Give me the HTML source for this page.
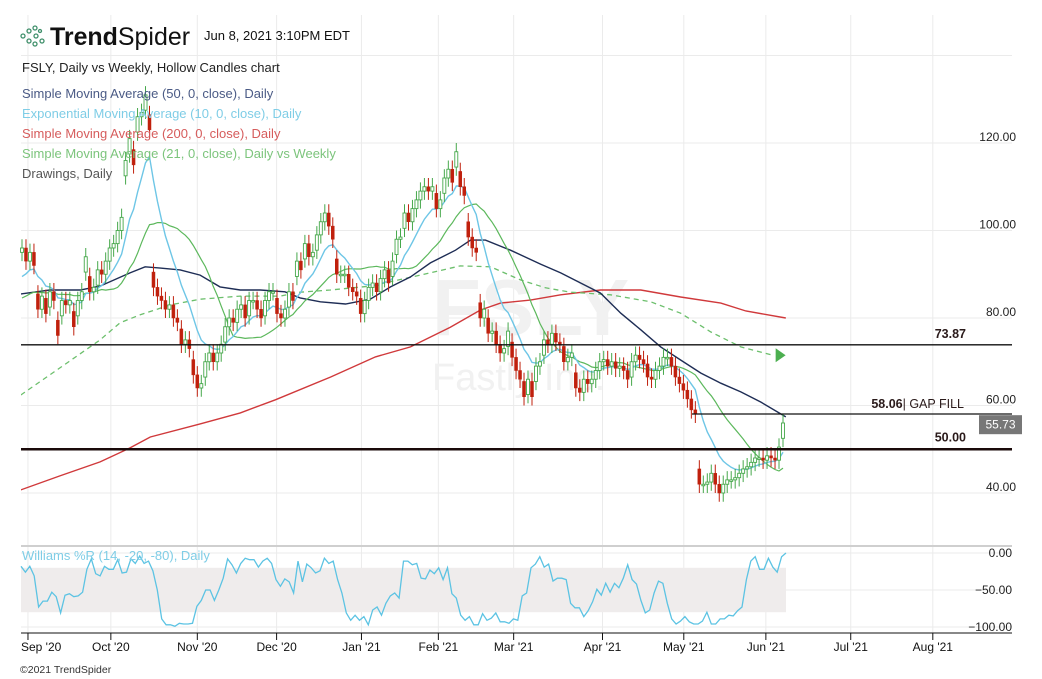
<!DOCTYPE html>
<html><head><meta charset="utf-8">
<style>
html,body{margin:0;padding:0;background:#fff;width:1042px;height:679px;overflow:hidden}
svg{display:block;font-family:"Liberation Sans",sans-serif}
</style></head>
<body>
<svg id="chart" width="1042" height="679" viewBox="0 0 1042 679" xmlns="http://www.w3.org/2000/svg">
  <g id="grid"></g>
  <g>
    <text x="432" y="335" font-size="80" font-weight="bold" fill="#f1f1f1">FSLY</text>
    <text x="432" y="390" font-size="38" fill="#f1f1f1">Fastly Inc.</text>
  </g>
  <rect id="wband" fill="#efecec"></rect>
  <g id="marks"></g>
  <g id="drawings"></g>
  <g id="axes"></g>
  <g>
    <g fill="none" stroke="#3f8f6a" stroke-width="1.3">
      <circle cx="23" cy="36" r="2"/><circle cx="29" cy="31" r="2"/><circle cx="29" cy="41" r="2"/>
      <circle cx="35" cy="28" r="2"/><circle cx="36" cy="36" r="2"/><circle cx="35" cy="44" r="2"/><circle cx="42" cy="41" r="2"/><circle cx="40" cy="31" r="1.5"/>
    </g>
    <text x="50" y="45" font-size="25" fill="#111" textLength="140" lengthAdjust="spacingAndGlyphs"><tspan font-weight="bold">Trend</tspan><tspan font-weight="normal">Spider</tspan></text>
    <text x="204" y="40" font-size="13" fill="#111">Jun 8, 2021 3:10PM EDT</text>
  </g>
  <g font-size="13">
    <text x="22" y="72" fill="#222">FSLY, Daily vs Weekly, Hollow Candles chart</text>
    <text x="22" y="98" fill="#4a5a85">Simple Moving Average (50, 0, close), Daily</text>
    <text x="22" y="118" fill="#7fcde6">Exponential Moving Average (10, 0, close), Daily</text>
    <text x="22" y="138" fill="#d65c5c">Simple Moving Average (200, 0, close), Daily</text>
    <text x="22" y="158" fill="#7cc47c">Simple Moving Average (21, 0, close), Daily vs Weekly</text>
    <text x="22" y="178" fill="#555">Drawings, Daily</text>
    <text x="22" y="560" fill="#7fcde6">Williams %R (14, -20, -80), Daily</text>
  </g>
  <text x="20" y="673" font-size="10.5" fill="#333">©2021 TrendSpider</text>
</svg>
<script>
// ---- data ----
const closes = [96,93,95,92,82,85,81,86,84,76,84,83,84,78,84,86,94,86,87,91,90,93,96,97,100,103,116,121,115,126,127,131,123,87,85,84,82,83,80,79,74,75,73,67,64,65,70,72,70,72,74,78,80,79,82,83,80,84,84,82,80,84,86,86,81,80,82,86,84,93,91,97,94,95,99,102,104,101,98,90,90,90,87,86,85,81,84,87,88,86,89,91,88,93,98,98.5,104,102,105,107,109,110,109,110,105,107,112,114,111,118,110,108,98.5,96,95,80,82,76.5,77,74,72,73,77,71,68,66,62,66,62,69,70,75,74,76.5,74.5,74,70,71,72,64,63,66,65,66,68,70,70.5,69,70,68.5,69,68,66,70,71.5,70.5,69.5,66.5,66,68,69,71,71,69,66.5,65,63.5,61.5,59,58,42,42,42.5,44.5,42,40,42,43,43,43.5,44.5,45.5,46,47,48,48,47.5,48.5,48,47.5,50.5,56];
const sma50Idx = [-1.8,7,14.6,19.6,27.1,30.9,34.7,39.7,44.7,49.7,54.8,59.8,66,69.8,74.9,81.2,87.4,92.5,97.5,102.5,108.8,112.6,116.3,122.6,130.2,135.2,140.2,145.2,150.3,155.3,160.3,165.3,170.4,175.4,180.4,185.4,191.7];
const sma50Val = [85.3,86.4,86.4,87.3,90.3,91.7,91.4,91.0,89.8,87.1,86.4,86.4,86.0,84.6,83.7,83.2,84.3,87.1,89.4,92.6,95.5,97.8,97.8,95.5,92.3,90.3,88.0,85.7,81.1,77.3,73.4,70.4,67.4,65.1,63.1,60.8,57.4];
const sma200Idx = [-0.3,9.5,19.6,27.1,32.2,44.7,54.8,63.6,77.4,88.7,97.5,107.5,115,120.1,127.6,135.2,145.2,155.3,165.3,175.4,181.7,191.7];
const sma200Val = [40.7,43.9,47.1,50.3,52.8,55.8,58.3,61.3,66.5,71.1,73.4,77.9,81.8,83.4,84.1,85.3,86.4,86.4,84.8,83.4,81.6,80.0];
const weeklyIdx = [-0.3,9.5,19.6,24.6,29.6,37.2,44.7,54.8,64.8,69.8,77.4,87.4,100,110,117.6,125.1,131.4,137.7,147.7,157.8,165.3,172.9,180.4,188.4];
const weeklyVal = [62.4,68.6,75.0,78.9,80.7,83.0,84.3,85.0,85.0,85.9,86.4,87.3,89.8,91.9,91.7,88.7,86.9,85.9,85.3,83.7,81.1,76.8,73.4,71.5];
const williams = [-18,-26,-18,-31,-73,-65,-65,-53,-59,-81,-57,-55,-59,-58,-53,-22,-8,-28,-31,-18,-22,-22,-9,-27,-26,-8,-14,-4,-14,-11,-24,-50,-89,-97,-97,-99,-95,-96,-96,-95,-72,-64,-50,-50,-64,-50,-34,-8,-16,-27,-14,-7,-9,-9,-19,-11,-7,-14,-36,-45,-35,-39,-54,-11,-39,-15,-20,-27,-24,-7,-14,-11,-36,-54,-81,-91,-84,-91,-86,-97,-77,-73,-84,-68,-58,-54,-61,-11,-11,-16,-14,-34,-35,-23,-28,-20,-36,-20,-55,-61,-84,-91,-86,-97,-97,-82,-91,-88,-81,-93,-93,-95,-89,-91,-58,-54,-20,-15,-5,-19,-15,-38,-34,-34,-36,-68,-74,-74,-86,-78,-66,-49,-57,-41,-53,-41,-47,-34,-16,-36,-42,-64,-81,-77,-54,-38,-41,-68,-89,-96,-92,-86,-93,-96,-96,-92,-80,-96,-96,-89,-89,-84,-85,-78,-73,-36,-11,-5,-22,-22,-7,-19,-26,-5,0];
const priceTicks = [120,100,80,60,40];
const wTicks = [0,-50,-100];
const monthLabels = ["Sep '20","Oct '20","Nov '20","Dec '20","Jan '21","Feb '21","Mar '21","Apr '21","May '21","Jun '21","Jul '21","Aug '21"];
const monthIdx = [1.5,22.3,44,63.9,85.2,104.5,123.4,145.7,166.1,186.7,208,228.6];
const levels = [73.87,58.06,50];
const lastPrice = 55.73;

// ---- scales ----
const L=21,R=1012;
const x0=22, x1=783;
const step=(x1-x0)/(closes.length-1);
const X=i=>x0+i*step;
const Y=p=>143+(120-p)*4.375;
const WY=v=>553-v*0.74;
const WX=i=>21+i*(786-21)/(williams.length-1);
const NS="http://www.w3.org/2000/svg";
function mk(tag,attrs,parent){const e=document.createElementNS(NS,tag);for(const k in attrs)e.setAttribute(k,attrs[k]);parent.appendChild(e);return e;}
const grid=document.getElementById('grid'),marks=document.getElementById('marks'),axes=document.getElementById('axes'),dr=document.getElementById('drawings');

// grid
[140,...priceTicks].forEach(p=>{const l=mk('line',{x1:L,x2:R,y1:Y(p),y2:Y(p),stroke:'#ebebeb','stroke-width':1},grid);

});
wTicks.forEach(v=>{const l=mk('line',{x1:L,x2:R,y1:WY(v),y2:WY(v),stroke:'#ebebeb'},grid);

});
monthIdx.forEach(i=>{const l=mk('line',{x1:X(i),x2:X(i),y1:15,y2:633,stroke:'#ebebeb'},grid);

});
const wb=document.getElementById('wband');
wb.setAttribute('x',L);wb.setAttribute('width',786-L);wb.setAttribute('y',WY(-20));wb.setAttribute('height',WY(-80)-WY(-20));

function pathFrom(idx,val,fx,fy){return idx.map((i,k)=>(k?'L':'M')+fx(i).toFixed(1)+','+fy(val[k]).toFixed(1)).join(' ');}
const clip=mk('clipPath',{id:'pc'},document.getElementById('chart'));mk('rect',{x:L,y:15,width:R-L,height:530},clip);

const s200=mk('path',{d:pathFrom(sma200Idx,sma200Val,X,Y),fill:'none',stroke:'#d0393b','stroke-width':1.4,'clip-path':'url(#pc)'},marks);


const wk=mk('path',{d:pathFrom(weeklyIdx,weeklyVal,X,Y),fill:'none',stroke:'#6cbf6c','stroke-width':1.3,'stroke-dasharray':'5,4','clip-path':'url(#pc)'},marks);


const lastW=weeklyIdx.length-1;
const ax=X(weeklyIdx[lastW])+3, ay=Y(weeklyVal[lastW]);
const arr=mk('polygon',{points:`${ax},${ay-7} ${ax+10},${ay} ${ax},${ay+7}`,fill:'#4caf50'},marks);


const s50=mk('path',{d:pathFrom(sma50Idx,sma50Val,X,Y),fill:'none',stroke:'#1e2d55','stroke-width':1.4,'clip-path':'url(#pc)'},marks);



const ema=[];let e=88;closes.forEach((c,i)=>{e=e+(c-e)*2/11;ema.push(e);});
const sma21=[];closes.forEach((c,i)=>{let s=0;for(let k=i-20;k<=i;k++)s+=(k<0?84:closes[k]);sma21.push(s/21);});
const idxAll=closes.map((c,i)=>i);
const l21=mk('path',{d:pathFrom(idxAll,sma21,X,Y),fill:'none',stroke:'#5cb85c','stroke-width':1.2},marks);


const le=mk('path',{d:pathFrom(idxAll,ema,X,Y),fill:'none',stroke:'#6ec6e6','stroke-width':1.4},marks);



// candles
closes.forEach((c,i)=>{
  let o=i?closes[i-1]:c-1;
  o=Math.max(c-3.5,Math.min(c+3.5,o));
  const up=c>=o;
  const hi=Math.max(o,c)+2, lo=Math.min(o,c)-2;
  const col=up?'#46a84b':'#c0200d';
  const g=mk('g',{},marks);
  
  
  mk('line',{x1:X(i),x2:X(i),y1:Y(hi),y2:Y(lo),stroke:col,'stroke-width':1},g);
  const top=Y(Math.max(o,c)),h=Math.max(1.5,Math.abs(Y(o)-Y(c)));
  mk('rect',{x:X(i)-1.5,y:top,width:3,height:h,fill:up?'#fff':col,stroke:col,'stroke-width':up?0.9:0.5},g);
});

const wl=mk('path',{d:pathFrom(williams.map((v,i)=>i),williams,WX,WY),fill:'none',stroke:'#5cc3e3','stroke-width':1.3},marks);



// drawings
const lv1=mk('line',{x1:L,x2:R,y1:Y(levels[0]),y2:Y(levels[0]),stroke:'#111','stroke-width':1.3},dr);


const lv2=mk('line',{x1:692,x2:R,y1:Y(levels[1]),y2:Y(levels[1]),stroke:'#111','stroke-width':1.3},dr);


const lv3=mk('line',{x1:L,x2:R,y1:Y(levels[2]),y2:Y(levels[2]),stroke:'#1a0a0a','stroke-width':2.4},dr);


const t1=mk('text',{x:966,y:Y(levels[0])-7,'text-anchor':'end','font-size':12.5,'font-weight':'bold',fill:'#2a1a1a'},dr);t1.textContent=levels[0].toFixed(2);


const t2=mk('text',{x:964,y:Y(levels[1])-6,'text-anchor':'end','font-size':12.5,fill:'#2a1a1a'},dr);
t2.innerHTML='<tspan font-weight="bold">'+levels[1].toFixed(2)+'</tspan>| GAP FILL';


const t3=mk('text',{x:966,y:Y(levels[2])-8,'text-anchor':'end','font-size':12.5,'font-weight':'bold',fill:'#2a1a1a'},dr);t3.textContent=levels[2].toFixed(2);



// axes
priceTicks.forEach(p=>{const t=mk('text',{x:1016,y:Y(p)-2,'text-anchor':'end','font-size':12,fill:'#222'},axes);t.textContent=p.toFixed(2);

});
const tag=mk('g',{},axes);


mk('rect',{x:979,y:Y(lastPrice)-9,width:43,height:19,fill:'#777'},tag);
const tt=mk('text',{x:1000.5,y:Y(lastPrice)+4.5,'text-anchor':'middle','font-size':12,fill:'#fff'},tag);tt.textContent=lastPrice.toFixed(2);
const sep=mk('line',{x1:L,x2:R,y1:546,y2:546,stroke:'#cfcfcf','stroke-width':2},axes);


wTicks.forEach(v=>{const t=mk('text',{x:1012,y:WY(v)+4,'text-anchor':'end','font-size':12,fill:'#222'},axes);t.textContent=v.toFixed(2).replace('-','\u2212');

});
const xa=mk('line',{x1:L,x2:R,y1:633,y2:633,stroke:'#111','stroke-width':1},axes);


monthIdx.forEach((i,k)=>{
  mk('line',{x1:X(i),x2:X(i),y1:633,y2:640,stroke:'#111'},axes);
  const t=mk('text',{x:k===0?21:X(i),y:651,'text-anchor':k===0?'start':'middle','font-size':12,fill:'#111'},axes);
  t.textContent=monthLabels[k];
  
  
});
</script>
</body></html>
